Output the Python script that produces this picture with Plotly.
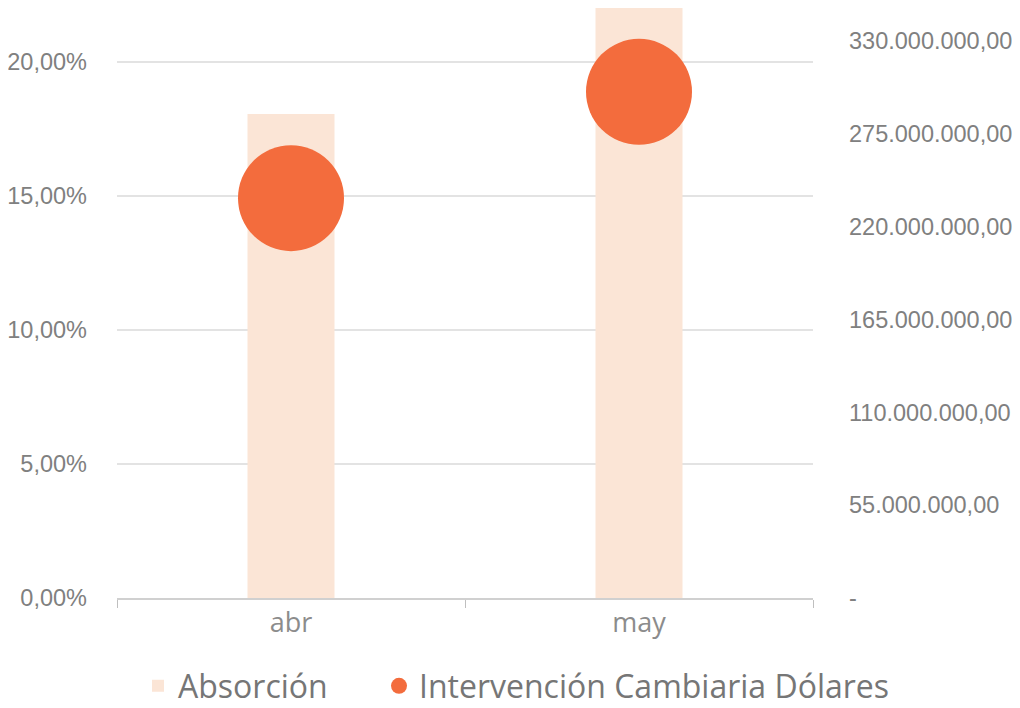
import plotly.graph_objects as go

categories = ["abr", "may"]
absorcion = [0.1805, 0.2205]
intervencion = [237000000, 300000000]

left_tickvals = [0, 0.05, 0.10, 0.15, 0.20]
left_ticktext = ["0,00%", "5,00%", "10,00%", "15,00%", "20,00%"]
right_tickvals = [0, 55e6, 110e6, 165e6, 220e6, 275e6, 330e6]
right_ticktext = ["-", "55.000.000,00", "110.000.000,00", "165.000.000,00",
                  "220.000.000,00", "275.000.000,00", "330.000.000,00"]

tick_font = dict(family="Liberation Sans, Arial, sans-serif", size=23.5, color="#808080")
legend_font = dict(family="Open Sans, Lato, sans-serif", size=32, color="#767676")

fig = go.Figure()
fig.add_trace(go.Bar(
    x=categories, y=absorcion, name="Absorción",
    marker=dict(color="#FBE5D6", line=dict(width=0)),
    width=0.25, yaxis="y", cliponaxis=True, legend="legend",
))
fig.add_trace(go.Scatter(
    x=categories, y=intervencion, name="Intervención Cambiaria Dólares",
    mode="markers", marker=dict(color="#F36C3D", size=106, line=dict(width=0)),
    yaxis="y2", cliponaxis=False, legend="legend2",
))

fig.update_layout(
    width=1012, height=700,
    margin=dict(l=109, r=207, t=0, b=110),
    plot_bgcolor="white", paper_bgcolor="white",
    showlegend=True,
    legend=dict(orientation="h", xref="container", x=130 / 1012, xanchor="left",
                yref="container", y=22 / 700, yanchor="middle",
                font=legend_font, itemsizing="constant", itemwidth=30),
    legend2=dict(orientation="h", xref="container", x=371 / 1012, xanchor="left",
                 yref="container", y=22 / 700, yanchor="middle",
                 font=legend_font, itemsizing="trace", itemwidth=30),
    xaxis=dict(type="category", tickson="boundaries", ticks="outside", ticklen=8,
               tickcolor="#BFBFBF", showline=True, linecolor="#D0D0D0", linewidth=1.5,
               showgrid=False, automargin=False,
               tickfont=dict(family="Open Sans, Lato, sans-serif", size=27, color="#8c8c8c"),
               range=[-0.5, 1.5]),
    yaxis=dict(range=[0, 0.22], tickvals=left_tickvals, ticktext=left_ticktext,
               showgrid=True, gridcolor="#E3E3E3", gridwidth=1.5, zeroline=False,
               automargin=False, tickfont=tick_font, ticks="", ticklabelstandoff=29),
    yaxis2=dict(range=[0, 349.7e6], overlaying="y", side="right",
                tickvals=right_tickvals, ticktext=right_ticktext,
                showgrid=False, zeroline=False, automargin=False,
                tickfont=tick_font, ticks="", ticklabelstandoff=35),
)

fig.write_html("out.html")
